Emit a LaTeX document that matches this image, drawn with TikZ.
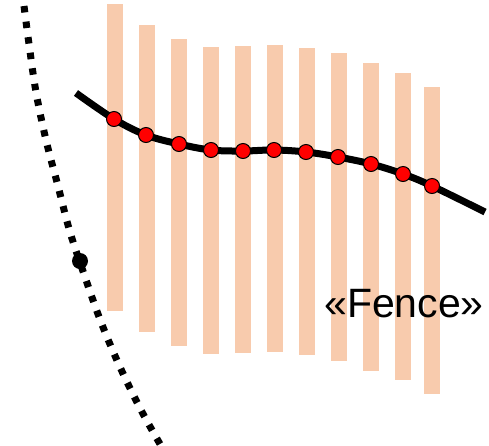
\documentclass[tikz,border=0pt]{standalone}
\usepackage{fontspec}
\setmainfont{Liberation Sans}
\definecolor{peach}{HTML}{F8CBAD}
\begin{document}
\begin{tikzpicture}[x=1pt,y=-1pt,
  bar/.style={fill=peach,draw=none},
  reddot/.style={circle,fill=red,draw=black,line width=1pt,minimum size=15pt,inner sep=0pt},
  fenceline/.style={line width=7pt,line cap=butt},
  bigdot/.style={circle,fill=black,minimum size=16pt,inner sep=0pt},
  trail/.style={line width=7pt,dash pattern=on 6.5pt off 9.2pt}]
\useasboundingbox (0,0) rectangle (489,445);
% bars
\foreach \xl/\t/\b in {107/4/311,139/25/332,171/39/346,203/47/354,235/46/353,267/45/352,299/48/355,331/53/361,363/63/371,395/73/380,424/87/394}
  \fill[bar] (\xl,\t) rectangle ++(16,\b-\t);
% dotted trail
\draw[trail] plot[smooth,tension=0.6] coordinates {(24,6) (29,44) (36,92) (46,140) (58,186) (70,232) (85,277) (101,322) (120,367) (141,410) (160,444)};
\node[bigdot] (p) at (80,261) {};
% fence line
\draw[fenceline] plot[smooth,tension=0.6] coordinates {(76,93) (114,119) (146,135) (179,144) (211,150) (243,151) (274,150) (306,152) (338,157) (371,164) (403,174) (432,186) (485,212)};
\foreach \x/\y [count=\i] in {114/119,146/135,179/144,211/150,243/151,274/150,306/152,338/157,371/164,403/174,432/186}
  \node[reddot] (d\i) at (\x,\y) {};
\node[anchor=base,inner sep=0pt] (lbl) at (404,317) {\fontsize{41}{48}\selectfont «Fence»};
\end{tikzpicture}
\end{document}
